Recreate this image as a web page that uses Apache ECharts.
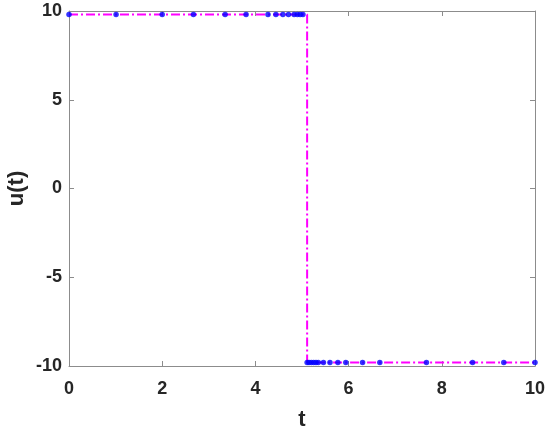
<!DOCTYPE html>
<html>
<head>
<meta charset="utf-8">
<script src="https://cdn.jsdelivr.net/npm/echarts@6/dist/echarts.min.js"></script>
<style>
  html, body { margin: 0; padding: 0; background: #fff; }
  #main { width: 550px; height: 429px; }
</style>
</head>
<body>
<div id="main"></div>
<script>
// points on the upper arc (u = +9.8)
var tTop = [0, 1.01, 2.0, 2.67, 3.35, 3.80, 4.27, 4.44, 4.59, 4.71, 4.83, 4.90, 4.96, 5.02];
var uTop = 9.8;
// points on the lower arc (u = -9.8)
var tBot = [5.11, 5.15, 5.20, 5.25, 5.30, 5.35, 5.46, 5.60, 5.77, 5.94, 6.30, 6.67, 7.67, 8.66, 9.33, 10];
var uBot = -9.8;
var tSwitch = 5.11;

var xTicks = [0, 2, 4, 6, 8, 10];
var yTicks = [-10, -5, 0, 5, 10];

var dots = [];
tTop.forEach(function (t) { dots.push([t, uTop]); });
tBot.forEach(function (t) { dots.push([t, uBot]); });

// step line: top points, jump at the switch time, then bottom points
var line = [];
tTop.forEach(function (t) { line.push([t, uTop]); });
line.push([tSwitch, uTop]);
tBot.forEach(function (t) { line.push([t, uBot]); });

var myChart = echarts.init(document.getElementById('main'));
var fontFam = 'Liberation Sans, Arial, Helvetica, sans-serif';
var axisCol = '#8c8c8c';
var txtCol = '#262626';

myChart.setOption({
    animation: false,
    backgroundColor: '#fff',
    grid: { left: 69, right: 15, top: 11, bottom: 63, containLabel: false, outerBoundsMode: 'none' },
    xAxis: [{
        type: 'value',
        min: 0, max: 10, interval: 2,
        name: 't',
        nameLocation: 'middle',
        nameGap: 43,
        nameTextStyle: { fontFamily: fontFam, fontWeight: 'bold', fontSize: 22, color: txtCol },
        axisLine: { show: true, onZero: false, lineStyle: { color: axisCol, width: 1 } },
        axisTick: { show: true, inside: true, length: 5, lineStyle: { color: axisCol } },
        axisLabel: { margin: 14, fontFamily: fontFam, fontWeight: 'bold', fontSize: 18, color: txtCol },
        splitLine: { show: false }
    }, {
        type: 'value', position: 'top',
        min: 0, max: 10, interval: 2,
        axisLine: { show: true, onZero: false, lineStyle: { color: axisCol, width: 1 } },
        axisTick: { show: true, inside: true, length: 5, lineStyle: { color: axisCol } },
        axisLabel: { show: false },
        splitLine: { show: false }
    }],
    yAxis: [{
        type: 'value',
        min: -10, max: 10, interval: 5,
        name: 'u(t)',
        nameLocation: 'middle',
        nameGap: 41,
        nameMoveOverlap: false,
        nameTextStyle: { fontFamily: fontFam, fontWeight: 'bold', fontSize: 22, color: txtCol },
        axisLine: { show: true, onZero: false, lineStyle: { color: axisCol, width: 1 } },
        axisTick: { show: true, inside: true, length: 5, lineStyle: { color: axisCol } },
        axisLabel: { margin: 7, fontFamily: fontFam, fontWeight: 'bold', fontSize: 18, color: txtCol },
        splitLine: { show: false }
    }, {
        type: 'value', position: 'right',
        min: -10, max: 10, interval: 5,
        axisLine: { show: true, onZero: false, lineStyle: { color: axisCol, width: 1 } },
        axisTick: { show: true, inside: true, length: 5, lineStyle: { color: axisCol } },
        axisLabel: { show: false },
        splitLine: { show: false }
    }],
    series: [{
        name: 'u',
        type: 'line',
        data: line,
        showSymbol: false,
        lineStyle: { color: '#ff00ff', width: 2, type: [9, 3, 2, 3] },
        z: 2
    }, {
        name: 'nodes',
        type: 'scatter',
        data: dots,
        symbol: 'circle',
        symbolSize: 5.5,
        itemStyle: { color: '#0000ff' },
        z: 3
    }]
});
</script>
</body>
</html>
